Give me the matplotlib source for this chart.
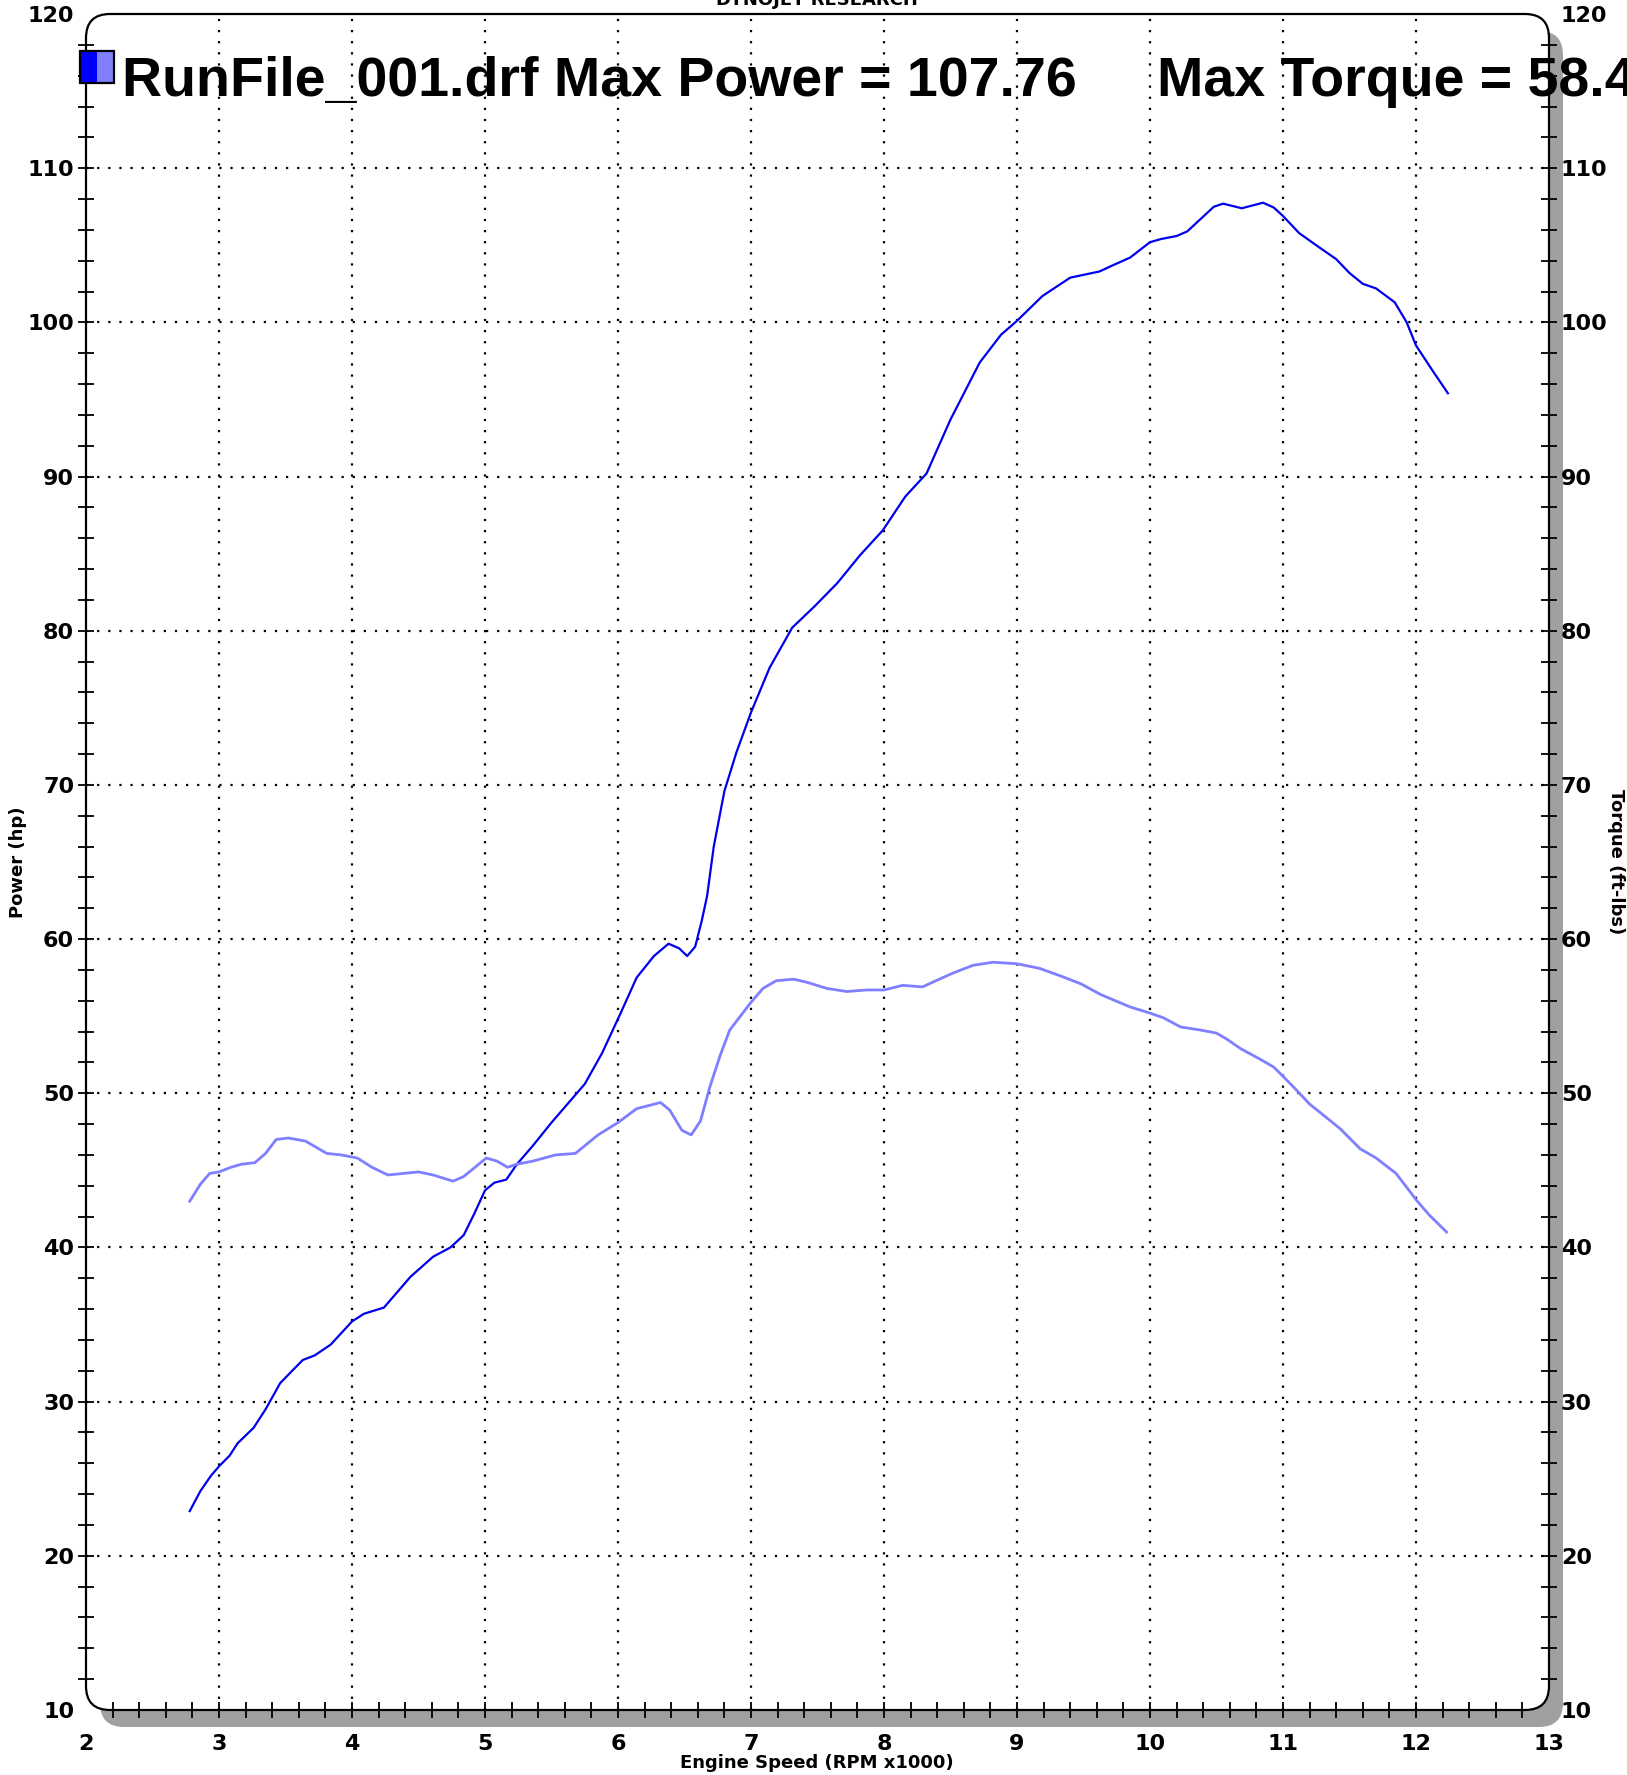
import matplotlib
matplotlib.use("Agg")
import matplotlib.pyplot as plt
from matplotlib.patches import FancyBboxPatch, Rectangle
from matplotlib.ticker import FixedLocator, MultipleLocator

plt.rcParams['font.family'] = ['DejaVu Sans']
plt.rcParams['font.weight'] = 'bold'
plt.rcParams['lines.solid_joinstyle'] = 'round'

# engine speed (x1000 rpm) and power (hp)
rpm_power = [2.78, 2.86, 2.94, 3.0, 3.08, 3.14, 3.26, 3.35, 3.46, 3.55, 3.63, 3.72, 3.84,
             4.0, 4.09, 4.24, 4.34, 4.44, 4.61, 4.74, 4.84, 4.92, 5.0, 5.07, 5.16, 5.24,
             5.36, 5.50, 5.63, 5.75, 5.88, 6.02, 6.14, 6.27, 6.38, 6.46, 6.52, 6.58, 6.63,
             6.67, 6.72, 6.80, 6.89, 7.0, 7.14, 7.31, 7.48, 7.65, 7.82, 7.99, 8.16, 8.32,
             8.50, 8.72, 8.88, 9.0, 9.19, 9.40, 9.62, 9.72, 9.85, 10.0, 10.08, 10.2, 10.28,
             10.38, 10.48, 10.55, 10.69, 10.85, 10.93, 11.0, 11.12, 11.25, 11.4, 11.5, 11.6,
             11.7, 11.84, 11.93, 12.0, 12.13, 12.24]
power = [22.9, 24.2, 25.2, 25.8, 26.5, 27.3, 28.3, 29.5, 31.2, 32.0, 32.7, 33.0, 33.7,
         35.2, 35.7, 36.1, 37.1, 38.1, 39.4, 40.0, 40.8, 42.2, 43.7, 44.2, 44.4, 45.4,
         46.6, 48.1, 49.4, 50.6, 52.6, 55.2, 57.5, 58.9, 59.7, 59.4, 58.9, 59.5, 61.2,
         62.8, 66.0, 69.6, 72.1, 74.7, 77.6, 80.2, 81.6, 83.1, 84.9, 86.5, 88.7, 90.2,
         93.7, 97.4, 99.2, 100.1, 101.7, 102.9, 103.3, 103.7, 104.2, 105.2, 105.4, 105.6,
         105.9, 106.7, 107.5, 107.7, 107.4, 107.76, 107.45, 106.9, 105.8, 105.0, 104.1,
         103.2, 102.5, 102.2, 101.3, 100.0, 98.5, 96.8, 95.4]

# torque (ft-lbs) on the right axis
rpm_torque = [2.78, 2.86, 2.93, 3.0, 3.09, 3.17, 3.27, 3.35, 3.43, 3.52, 3.65, 3.81, 3.92,
              4.04, 4.15, 4.27, 4.50, 4.61, 4.76, 4.84, 5.01, 5.09, 5.17, 5.24, 5.36, 5.53,
              5.68, 5.85, 6.0, 6.14, 6.32, 6.39, 6.48, 6.55, 6.62, 6.69, 6.77, 6.84, 7.0,
              7.09, 7.19, 7.32, 7.42, 7.57, 7.72, 7.87, 8.0, 8.14, 8.29, 8.39, 8.52, 8.67,
              8.82, 9.0, 9.17, 9.33, 9.48, 9.63, 9.85, 10.0, 10.1, 10.23, 10.38, 10.5,
              10.58, 10.68, 10.83, 10.93, 11.0, 11.08, 11.2, 11.33, 11.43, 11.58, 11.7,
              11.85, 11.93, 12.0, 12.1, 12.23]
torque = [43.0, 44.1, 44.8, 44.9, 45.2, 45.4, 45.5, 46.1, 47.0, 47.1, 46.9, 46.1, 46.0,
          45.8, 45.2, 44.7, 44.9, 44.7, 44.3, 44.6, 45.8, 45.6, 45.2, 45.4, 45.6, 46.0,
          46.1, 47.3, 48.1, 49.0, 49.4, 48.9, 47.6, 47.3, 48.2, 50.4, 52.5, 54.1, 55.9,
          56.8, 57.3, 57.4, 57.2, 56.8, 56.6, 56.7, 56.7, 57.0, 56.9, 57.3, 57.8, 58.3,
          58.5, 58.4, 58.1, 57.6, 57.1, 56.4, 55.6, 55.2, 54.9, 54.3, 54.1, 53.9,
          53.5, 52.9, 52.2, 51.7, 51.1, 50.4, 49.3, 48.4, 47.7, 46.4, 45.8,
          44.8, 43.9, 43.1, 42.1, 41.0]

x_ticks = list(range(2, 14))
y_ticks = list(range(10, 121, 10))

W, H = 1627, 1775
fig = plt.figure(figsize=(W / 100, H / 100), dpi=100)

# plot box in pixels
x0, x1, y_top, y_bot = 86, 1549, 14, 1710
ax = fig.add_axes([x0 / W, 1 - y_bot / H, (x1 - x0) / W, (y_bot - y_top) / H])
ax.set_facecolor('none')
ax.set_zorder(1)

# rounded frame with grey drop shadow, in inches
bx, by, bw, bh = x0 / 100, (H - y_bot) / 100, (x1 - x0) / 100, (y_bot - y_top) / 100
shadow = FancyBboxPatch((bx + 0.14, by - 0.17), bw, bh,
                        boxstyle="round,pad=0,rounding_size=0.24",
                        transform=fig.dpi_scale_trans, fc='#a0a0a0', ec='none', zorder=-2)
face = FancyBboxPatch((bx, by), bw, bh, boxstyle="round,pad=0,rounding_size=0.24",
                      transform=fig.dpi_scale_trans, fc='white', ec='none', zorder=-1)
frame = FancyBboxPatch((bx, by), bw, bh, boxstyle="round,pad=0,rounding_size=0.24",
                       transform=fig.dpi_scale_trans, fc='none', ec='black', lw=1.6, zorder=5)
for p in (shadow, face, frame):
    fig.add_artist(p)

ax2 = ax.twinx()
ax2.set_zorder(2)
for a in (ax, ax2):
    a.set_xlim(2, 13)
    a.set_ylim(10, 120)
    for s in a.spines.values():
        s.set_visible(False)

# dotted grid on the inner major ticks
for xv in x_ticks[1:-1]:
    ax.axvline(xv, color='black', lw=1.6, ls=(0, (1, 4)), zorder=0)
for yv in y_ticks[1:-1]:
    ax.axhline(yv, color='black', lw=1.6, ls=(0, (1, 4)), zorder=0)

ax.plot(rpm_power, power, color='#0000ee', lw=1.6, zorder=3)
ax2.plot(rpm_torque, torque, color='#7f7fff', lw=2.0, zorder=3)

ax.xaxis.set_major_locator(FixedLocator(x_ticks))
ax.xaxis.set_minor_locator(MultipleLocator(0.2))
ax.yaxis.set_major_locator(FixedLocator(y_ticks))
ax.yaxis.set_minor_locator(MultipleLocator(2))
ax2.yaxis.set_major_locator(FixedLocator(y_ticks))
ax2.yaxis.set_minor_locator(MultipleLocator(2))

ax.tick_params(axis='x', which='both', direction='inout', length=11, width=1.3,
               top=False, labelsize=16, pad=12)
ax.tick_params(axis='y', which='both', direction='inout', length=11, width=1.3,
               right=False, labelsize=16, pad=3)
ax2.tick_params(axis='y', which='both', direction='inout', length=11, width=1.3,
                left=False, labelsize=16, pad=3)

# no tick marks in the rounded corners
fig.canvas.draw()
for t in (ax.xaxis.get_major_ticks()[0], ax.xaxis.get_major_ticks()[-1]):
    t.tick1line.set_visible(False)
for a in (ax, ax2):
    mt = a.yaxis.get_major_ticks()
    for t in (mt[0], mt[-1]):
        t.tick1line.set_visible(False)
        t.tick2line.set_visible(False)
for t in ax.xaxis.get_minor_ticks():
    if t.get_loc() < 2.01 or t.get_loc() > 12.99:
        t.tick1line.set_visible(False)
for a in (ax, ax2):
    for t in a.yaxis.get_minor_ticks():
        if t.get_loc() < 10.01 or t.get_loc() > 119.99:
            t.tick1line.set_visible(False)
            t.tick2line.set_visible(False)

fig.text(817 / W, 1 - 1763 / H, 'Engine Speed (RPM x1000)', ha='center', va='center',
         fontsize=13)
fig.text(18 / W, 1 - 862 / H, 'Power (hp)', rotation=90, ha='center', va='center',
         fontsize=13)
fig.text(1616 / W, 1 - 862 / H, 'Torque (ft-lbs)', rotation=-90, ha='center', va='center',
         fontsize=13)
fig.text(817 / W, 1 - 5 / H, 'DYNOJET RESEARCH', ha='center', va='baseline', fontsize=13)

# legend swatch and run summary
fig.add_artist(Rectangle((0.80, (H - 83) / 100), 0.17, 0.32, transform=fig.dpi_scale_trans,
                         fc='#0000ff', ec='none', zorder=6))
fig.add_artist(Rectangle((0.97, (H - 83) / 100), 0.17, 0.32, transform=fig.dpi_scale_trans,
                         fc='#8080ff', ec='none', zorder=6))
fig.add_artist(Rectangle((0.80, (H - 83) / 100), 0.34, 0.32, transform=fig.dpi_scale_trans,
                         fc='none', ec='black', lw=1.6, zorder=7))
fig.text(1.22, (H - 96) / 100, 'RunFile_001.drf Max Power = 107.76',
         transform=fig.dpi_scale_trans, fontsize=40, family=['Liberation Sans'],
         weight='bold', va='baseline', zorder=8)
fig.text(11.57, (H - 96) / 100, 'Max Torque = 58.44',
         transform=fig.dpi_scale_trans, fontsize=40, family=['Liberation Sans'],
         weight='bold', va='baseline', zorder=8)

fig.savefig('out.png', dpi=100)
